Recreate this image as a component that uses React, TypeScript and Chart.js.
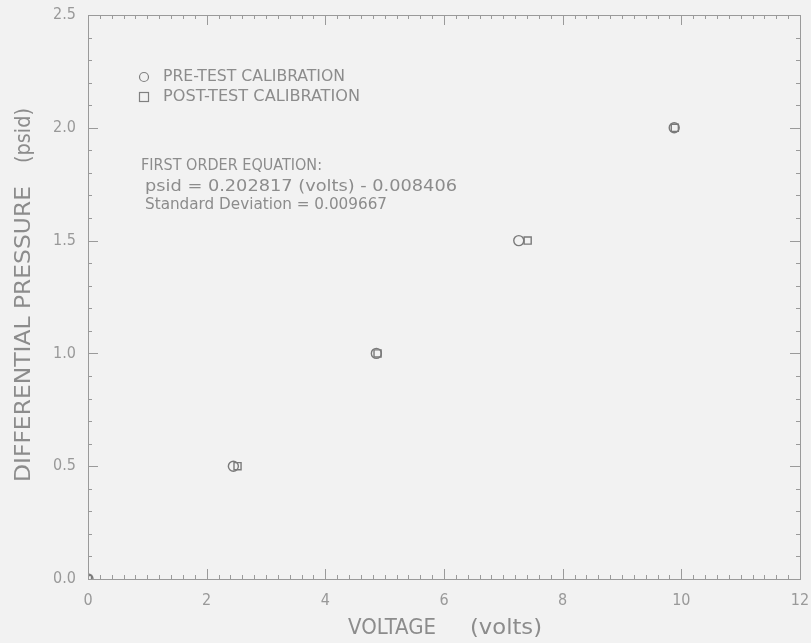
import React, { useEffect, useRef } from "react";
import { Chart, registerables } from "chart.js";

Chart.register(...registerables);

const preVolts = [0, 2.45, 4.86, 7.26, 9.88];
const prePsid = [0, 0.5, 1.0, 1.5, 2.0];
const postVolts = [0, 2.52, 4.88, 7.41, 9.89];
const postPsid = [0, 0.5, 1.0, 1.5, 2.0];
const xTicks = [0, 2, 4, 6, 8, 10, 12];
const yTicks = [0, 0.5, 1.0, 1.5, 2.0, 2.5];
const legendLabels = ["PRE-TEST CALIBRATION", "POST-TEST CALIBRATION"];
const noteLines = [
  "FIRST ORDER EQUATION:",
  "psid = 0.202817 (volts) - 0.008406",
  "Standard Deviation = 0.009667",
];
const xTitleParts = ["VOLTAGE", "(volts)"];
const yTitleParts = ["DIFFERENTIAL PRESSURE", "(psid)"];

const FONT = "'Liberation Sans Narrow', 'DejaVu Sans Condensed', sans-serif";
const TXT = "#8c8c8c";

function fitText(ctx: any, text: string, x: number, y: number, w: number, size: number) {
  ctx.save();
  ctx.font = `${size}px ${FONT}`;
  const m = ctx.measureText(text).width;
  ctx.translate(x, y);
  ctx.scale(w / m, 1);
  ctx.textAlign = "left";
  ctx.textBaseline = "middle";
  ctx.fillText(text, 0, 0);
  ctx.restore();
}

const decor = {
  id: "decor",
  beforeDraw(c: any) {
    const { ctx, chartArea: a } = c;
    ctx.save();
    ctx.fillStyle = "#f2f2f2";
    ctx.fillRect(0, 0, c.width, c.height);
    ctx.strokeStyle = "#9a9a9a";
    ctx.lineWidth = 1;
    ctx.strokeRect(a.left + 0.5, a.top + 0.5, a.right - a.left, a.bottom - a.top);
    ctx.restore();
  },
  afterDraw(chart: any) {
    const { ctx, chartArea: a, scales } = chart;
    const x = scales.x, y = scales.y;
    ctx.save();
    ctx.strokeStyle = "#9a9a9a";
    ctx.lineWidth = 1;
    ctx.beginPath();
    for (let i = 0; i <= 60; i++) {
      const px = Math.round(x.getPixelForValue(i * 0.2)) + 0.5;
      const len = i % 10 === 0 ? 10 : 4;
      ctx.moveTo(px, a.bottom); ctx.lineTo(px, a.bottom - len);
      ctx.moveTo(px, a.top); ctx.lineTo(px, a.top + len);
    }
    for (let i = 0; i <= 25; i++) {
      const py = Math.round(y.getPixelForValue(i * 0.1)) + 0.5;
      const len = i % 5 === 0 ? 10 : 4;
      ctx.moveTo(a.left, py); ctx.lineTo(a.left + len, py);
      ctx.moveTo(a.right, py); ctx.lineTo(a.right - len, py);
    }
    ctx.stroke();

    ctx.fillStyle = TXT;
    ctx.strokeStyle = "#808080";
    ctx.lineWidth = 1.2;
    ctx.beginPath();
    ctx.arc(144, 77, 4.5, 0, Math.PI * 2);
    ctx.stroke();
    ctx.strokeRect(139.5, 92.5, 9, 9);
    fitText(ctx, legendLabels[0], 163, 77, 182, 16);
    fitText(ctx, legendLabels[1], 163, 97, 197, 16);
    fitText(ctx, noteLines[0], 141, 166, 181, 15);
    fitText(ctx, noteLines[1], 145, 187, 312, 16);
    fitText(ctx, noteLines[2], 145, 205, 242, 15);

    // axis titles
    fitText(ctx, xTitleParts[0], 348, 628, 88, 22);
    fitText(ctx, xTitleParts[1], 470, 628, 72, 22);
    ctx.save();
    ctx.translate(24, 0);
    ctx.rotate(-Math.PI / 2);
    fitText(ctx, yTitleParts[0], -482, 0, 296, 22);
    fitText(ctx, yTitleParts[1], -163, 0, 55, 22);
    ctx.restore();
    ctx.restore();
  },
};

export default function App() {
  const ref = useRef<HTMLCanvasElement>(null);
  useEffect(() => {
    document.body.style.margin = "0";
    document.body.style.background = "#f2f2f2";
    const ds = (label: string, xs: number[], ys: number[], style: string) => ({
      label,
      data: xs.map((v, i) => ({ x: v, y: ys[i] })),
      pointStyle: style,
      pointRadius: 5,
      borderColor: "#7a7a7a",
      backgroundColor: "rgba(0,0,0,0)",
      borderWidth: 1.4,
    });
    const chart = new Chart(ref.current!, {
      type: "scatter",
      data: {
        datasets: [
          ds(legendLabels[0], preVolts, prePsid, "circle"),
          ds(legendLabels[1], postVolts, postPsid, "rect"),
        ],
      },
      options: {
        animation: false,
        responsive: false,
        layout: { padding: { top: 15, right: 11, left: 0, bottom: 0 } },
        plugins: { legend: { display: false }, tooltip: { enabled: false } },
        scales: {
          x: {
            type: "linear",
            min: 0,
            max: 12,
            afterFit(s: any) {
              s.height = 64;
              s.paddingLeft = 0;
              s.paddingRight = 0;
            },
            afterBuildTicks(s: any) { s.ticks = xTicks.map((v) => ({ value: v })); },
            grid: { display: false, drawTicks: false },
            border: { display: true, color: "#9a9a9a", width: 1 },
            ticks: { color: "#999", font: { family: FONT, size: 16 }, padding: 12, maxRotation: 0 },
          },
          y: {
            type: "linear",
            min: 0,
            max: 2.5,
            afterFit(s: any) {
              s.width = 88;
              s.paddingTop = 0;
              s.paddingBottom = 0;
            },
            afterBuildTicks(s: any) { s.ticks = yTicks.map((v) => ({ value: v })); },
            grid: { display: false, drawTicks: false },
            border: { display: true, color: "#9a9a9a", width: 1 },
            ticks: {
              color: "#999",
              font: { family: FONT, size: 16 },
              padding: 12,
              callback: (v: any) => Number(v).toFixed(1),
            },
          },
        },
      },
      plugins: [decor],
    } as any);
    return () => chart.destroy();
  }, []);
  return (
    <div style={{ position: "fixed", left: 0, top: 0, width: 811, height: 643 }}>
      <canvas ref={ref} width={811} height={643} style={{ width: 811, height: 643 }} />
    </div>
  );
}
